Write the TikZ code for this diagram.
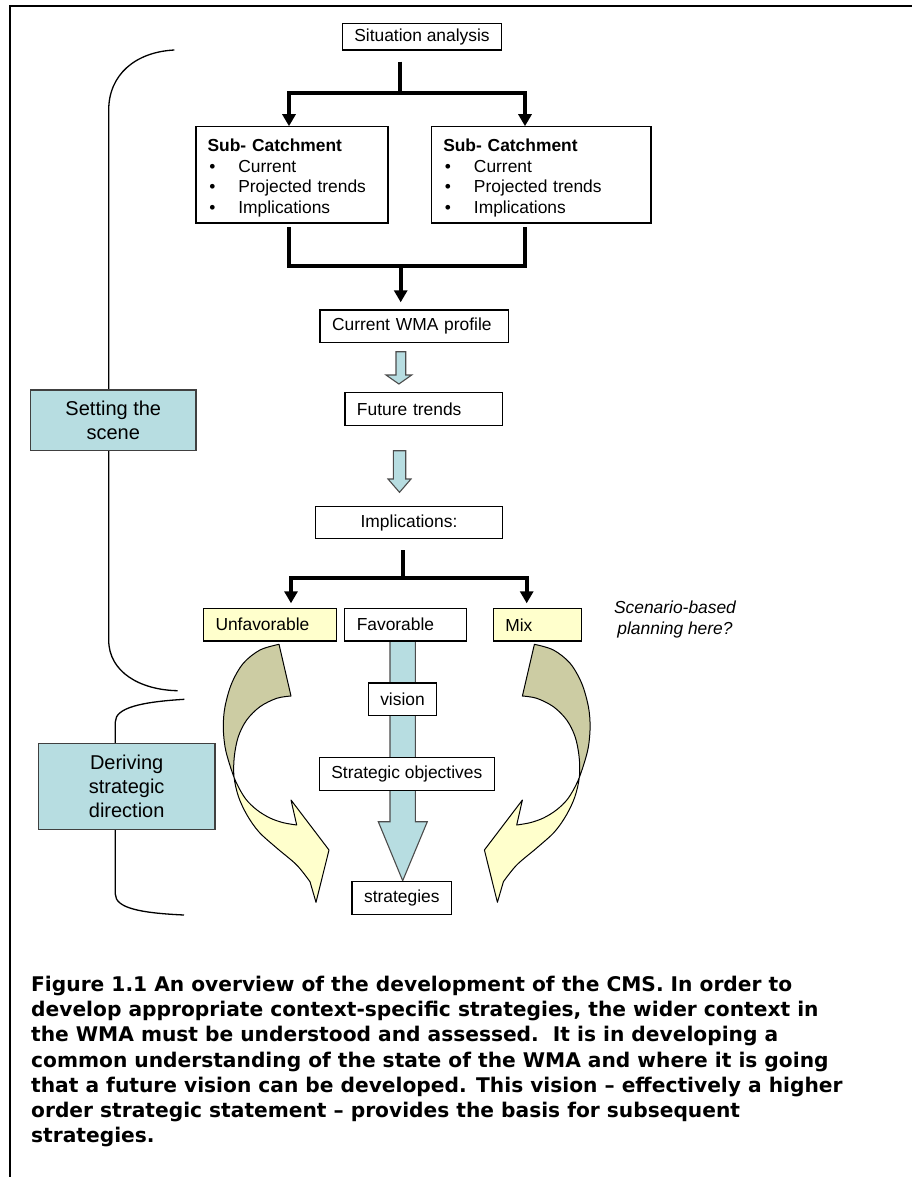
\documentclass[tikz,border=0pt]{standalone}
\usepackage{fontspec}
\setmainfont{Liberation Sans}
\newfontfamily\capfont{DejaVu Sans}
\usetikzlibrary{arrows.meta}

\definecolor{paleblue}{RGB}{183,221,225}
\definecolor{paleyellow}{RGB}{255,255,204}
\definecolor{bandback}{RGB}{204,204,163}

\newcommand\bodysize{\fontsize{17.4pt}{20.5pt}\selectfont}
\newcommand\tagsize{\fontsize{20pt}{24pt}\selectfont}

% twisted ribbon arrow (left copy; the right one is its mirror image)
\newcommand\ribbon[1]{%
  \path[#1]
    plot[smooth, tension=0.55] coordinates {(279,644.3) (260,650) (243.3,663.3)
      (231.7,683.3) (225,706.7) (223.3,726.7) (225,746.7) (229.5,764) (236,782)
      (245.5,798.7) (257,810) (270,818) (283.3,822.7) (296.7,825)}
    -- (291,800) -- (329,850) -- (316,902.3) -- (310,881.7)
    -- plot[smooth, tension=0.55] coordinates {(310,881.7) (296.7,865) (276.7,848)
      (259,832) (247,815) (238.5,796.7) (234,776.7) (234.3,756.7) (238.3,736.7)
      (246.7,720) (260,706.7) (276.7,698.3) (291,696)}
    -- cycle;}

\newcommand\ribbonarrow{%
  \ribbon{fill=paleyellow}
  \begin{scope}
    \clip (0,0) rectangle (912,777);
    \ribbon{fill=bandback}
  \end{scope}
  \ribbon{draw=black, line width=1pt, line join=round}}

\begin{document}
\begin{tikzpicture}[x=1pt, y=-1pt,
  box/.style={draw=black, line width=1.2pt, fill=white, font=\bodysize,
    inner xsep=12pt, inner ysep=0pt, minimum height=32.6pt},
  lbox/.style={box, align=left},
  cbox/.style={box, align=center},
  subbox/.style={box, align=left, inner xsep=11.6pt, minimum height=96.2pt},
  tagbox/.style={draw=black!75, line width=1.2pt, fill=paleblue, font=\tagsize,
    align=center, inner sep=0pt},
  conn/.style={line width=4pt},
  arr/.style={conn, -{Triangle[width=13pt,length=12pt]}},
  blockarrow/.style={fill=paleblue, draw=black!70, line width=1.1pt},
  bracket/.style={draw=black, line width=1.3pt},
  note/.style={font=\bodysize\itshape, align=center, inner sep=0pt},
  caption/.style={font=\capfont\bfseries\fontsize{20.2pt}{25.2pt}\selectfont,
    align=left, inner sep=0pt, anchor=north west}
]
\useasboundingbox (0,0) rectangle (912,1177);

% page frame
\draw[line width=2pt] (10,1177) -- (10,6) -- (912,6);

% brackets grouping the stages
\draw[bracket] (174.4,50) .. controls (135,52) and (108.7,75) .. (108.7,110)
  -- (108.7,640) .. controls (108.7,672) and (140,690) .. (177.7,690.7);
\draw[bracket] (184.3,699.3) .. controls (140,702) and (115.3,708) .. (115.3,722)
  -- (115.3,894) .. controls (115.3,908) and (140,913) .. (184,915);

\node[tagbox, minimum width=165.3pt, minimum height=60.7pt] (scene) at (113.3,420.3)
  {Setting the\\scene};
\node[tagbox, minimum width=176.7pt, minimum height=86pt] (derive) at (126.7,786.3)
  {Deriving\\strategic\\direction};

% situation analysis and sub-catchments
\node[cbox, minimum width=158pt, minimum height=26.7pt] (sit) at (422,36.7)
  {Situation analysis};
\node[subbox, text width=168.8pt] (subL) at (292,174.9)
  {\rule{0pt}{18.7pt}\textbf{Sub- Catchment}\\
   \hspace*{1.7pt}\makebox[29pt][l]{\textbullet}Current\\
   \hspace*{1.7pt}\makebox[29pt][l]{\textbullet}Projected trends\\
   \hspace*{1.7pt}\makebox[29pt][l]{\textbullet}Implications};
\node[subbox, text width=196.1pt] (subR) at (541.3,174.9)
  {\rule{0pt}{18.7pt}\textbf{Sub- Catchment}\\
   \hspace*{1.7pt}\makebox[29pt][l]{\textbullet}Current\\
   \hspace*{1.7pt}\makebox[29pt][l]{\textbullet}Projected trends\\
   \hspace*{1.7pt}\makebox[29pt][l]{\textbullet}Implications};

\coordinate (j1) at (400,93);
\draw[conn] ([xshift=-22pt,yshift=-11pt]sit.south) -- (j1);
\draw[arr] (j1) -| ([xshift=-3pt]subL.north);
\draw[arr] (j1) -| ([xshift=-16.3pt]subR.north);

% merge into the WMA profile
\node[lbox, text width=164.3pt] (wma) at (414.2,326.2) {Current WMA profile};
\coordinate (j2) at (400.7,266);
\draw[conn] ([xshift=-3.3pt,yshift=-3.7pt]subL.south) |- (j2)
  -| ([xshift=-16.6pt,yshift=-3.7pt]subR.south);
\draw[arr, shorten >=7pt] (j2) -- (j2 |- wma.north);

\node[lbox, text width=133.3pt] (fut) at (423.6,409) {Future trends};
\node[cbox, minimum width=186.6pt] (imp) at (409,522.5) {Implications:};

% hollow block arrows between the profile stages
\filldraw[blockarrow] (396,351.7) -- (396,375) -- (386,375) -- (398.9,384)
  -- (411.7,375) -- (405.7,375) -- (405.7,351.7) -- cycle;
\filldraw[blockarrow] (393.3,450.7) -- (393.3,479) -- (388,479) -- (399.5,492.3)
  -- (411,479) -- (405.7,479) -- (405.7,450.7) -- cycle;

% favourable path: vision, objectives, strategies
\filldraw[blockarrow] (390,641) -- (390,821.7) -- (378.3,821.7) -- (402.7,880.7)
  -- (427.3,821.7) -- (415.3,821.7) -- (415.3,641) -- cycle;

\node[lbox, fill=paleyellow, text width=109.2pt] (unf) at (270.1,624.7) {Unfavorable};
\node[lbox, text width=98.1pt] (fav) at (405.8,624.7) {Favorable};
\node[lbox, fill=paleyellow, text width=64pt] (mix) at (537.3,624.7) {Mix};

\coordinate (j3) at (402.7,577.5);
\draw[conn] ([xshift=-6.3pt,yshift=-11pt]imp.south) -- (j3);
\draw[arr, shorten >=4.5pt] (j3) -| ([xshift=20.9pt]unf.north);
\draw[arr, shorten >=4.5pt] (j3) -| ([xshift=-10.6pt]mix.north);

\node[note] (scen) at (675,619.5) {Scenario-based\\planning here?};

\node[cbox, minimum width=67.6pt, inner xsep=4pt] (vis) at (402.5,699.3) {vision};
\node[cbox, minimum width=174.3pt] (sobj) at (406.8,773.8) {Strategic objectives};
\node[cbox, minimum width=98.3pt] (strat) at (401.8,898) {strategies};

% ribbon arrows for the unfavourable and mixed outcomes
\ribbonarrow
\begin{scope}[xshift=813.4pt, xscale=-1]
  \ribbonarrow
\end{scope}

% figure caption
\node[caption] (cap) at (31,976)
  {Figure 1.1 An overview of the development of the CMS. In order to\\
   develop appropriate context-specific strategies, the wider context in\\
   the WMA must be understood and assessed.\ \ It is in developing a\\
   common understanding of the state of the WMA and where it is going\\
   that a future vision can be developed. This vision – effectively a higher\\
   order strategic statement – provides the basis for subsequent\\
   strategies.};
\end{tikzpicture}
\end{document}
